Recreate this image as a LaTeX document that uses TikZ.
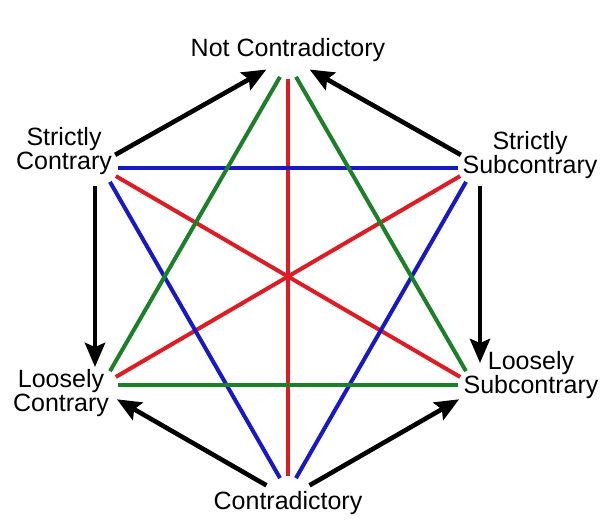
\documentclass[tikz,border=0pt]{standalone}
\usepackage{fontspec}
\setmainfont{Liberation Sans}
\usetikzlibrary{arrows.meta}
\definecolor{sqred}{RGB}{222,28,36}
\definecolor{sqblue}{RGB}{24,24,196}
\definecolor{sqgreen}{RGB}{28,128,40}

\begin{document}
\begin{tikzpicture}[x=.5pt,y=-.5pt,line join=round,>={Stealth[length=12pt,width=10pt,inset=2pt]},font=\fontsize{12.5}{12}\selectfont]
  \useasboundingbox[fill=white] (0,0) rectangle (600,520);

  % corners of the hexagon
  \coordinate (vT)  at (288,63);
  \coordinate (vSC) at (102,168);
  \coordinate (vSS) at (474,168);
  \coordinate (vLC) at (102,385);
  \coordinate (vLS) at (474,385);
  \coordinate (vB)  at (288,492);

  \foreach \a/\b/\c in {vT/vB/sqred,vSC/vLS/sqred,vSS/vLC/sqred,
                        vSC/vSS/sqblue,vSC/vB/sqblue,vSS/vB/sqblue,
                        vT/vLC/sqgreen,vT/vLS/sqgreen,vLC/vLS/sqgreen}
    \draw[\c,line width=2pt,shorten <=8pt,shorten >=8pt] (\a) -- (\b);

  % implication arrows, pushed a little outwards
  \foreach \a/\b/\dx/\dy/\s/\e in {vSC/vT/-2.5/-4.3/9pt/11pt,vSS/vT/2.5/-4.3/9pt/11pt,
                                   vSC/vLC/-7/0/9pt/9pt,vSS/vLS/6/0/9pt/11pt,
                                   vB/vLC/-2.5/4.3/11pt/10pt,vB/vLS/2.5/4.3/11pt/10pt}
    \draw[black,line width=2.3pt,->,transform canvas={shift={(\dx,\dy)}},
          shorten <=\s,shorten >=\e] (\a) -- (\b);

  \node (NotContr) at (288,50) {Not Contradictory};
  \node[align=center] (StrContr) at (64,151) {Strictly\\Contrary};
  \node[align=center] (StrSub) at (530,155) {Strictly\\Subcontrary};
  \node[align=center] (LooContr) at (61,393) {Loosely\\Contrary};
  \node[align=center] (LooSub) at (531,375) {Loosely\\Subcontrary};
  \node (Contr) at (288,503) {Contradictory};
\end{tikzpicture}
\end{document}
